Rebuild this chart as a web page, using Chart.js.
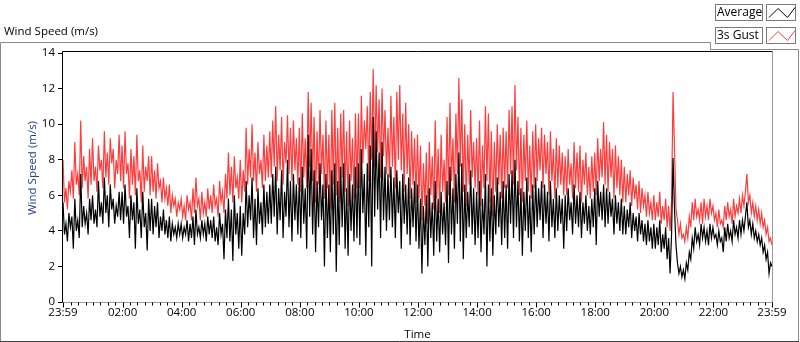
<!DOCTYPE html>
<html>
<head>
<meta charset="utf-8">
<script src="https://cdn.jsdelivr.net/npm/chart.js@4.4.0/dist/chart.umd.min.js"></script>
<style>
html,body{margin:0;padding:0;background:#fff;}
canvas{display:block;}
</style>
</head>
<body>
<canvas id="c" width="800" height="342"></canvas>
<script>
// ---- data, one sample every 3 minutes starting at 23:59 ----
const sampleIntervalMin = 3;

const gustSpeed = [
  8.0,5.6,6.4,5.2,6.8,6.2,7.4,5.8,9.0,6.6,7.2,6.0,10.2,6.4,8.2,6.8,7.6,5.8,8.6,6.6,
  9.2,6.8,7.6,6.2,8.8,7.4,8.0,6.4,9.6,7.0,8.4,6.6,9.2,7.8,8.6,6.4,8.0,7.2,9.4,6.8,
  8.8,6.4,9.6,7.2,7.8,5.8,8.6,6.6,8.2,6.0,9.4,6.8,7.4,5.6,8.8,6.2,7.6,6.8,8.2,6.0,
  8.2,6.2,7.4,5.8,7.8,6.4,6.8,5.6,7.0,5.8,6.4,5.4,6.6,5.0,6.0,5.4,5.8,4.8,5.6,5.2,
  5.8,4.8,5.4,4.6,6.0,5.2,5.6,4.6,6.4,5.0,7.0,5.4,5.8,4.6,6.2,5.0,5.6,4.8,6.4,5.2,
  6.0,5.0,6.6,5.4,5.8,4.8,6.8,5.6,6.2,5.0,7.2,5.8,8.4,6.0,7.6,5.6,8.2,6.4,7.0,5.8,
  8.0,5.6,7.4,6.2,9.8,6.6,8.6,7.0,10.0,6.8,8.4,6.2,9.0,7.2,8.0,6.4,9.4,6.8,8.8,7.0,
  9.6,7.0,10.2,7.6,11.0,6.8,9.4,7.4,10.4,6.6,9.0,7.8,10.5,7.2,9.8,6.8,10.2,7.4,9.2,6.6,
  9.8,6.2,10.6,7.0,9.2,6.4,11.8,7.6,11.2,6.8,10.4,5.6,9.6,6.6,10.8,7.2,9.4,5.8,10.2,6.4,
  9.4,5.2,10.8,6.6,11.2,6.0,9.8,5.6,10.6,7.0,10.8,6.2,9.6,5.4,10.2,6.8,9.2,5.8,10.6,6.4,
  10.6,6.4,11.6,7.8,10.2,8.6,11.0,6.8,11.8,8.0,13.1,7.6,12.2,8.4,11.4,7.0,12.0,8.2,10.8,7.2,
  9.8,7.0,11.6,7.6,10.4,6.4,11.8,8.0,12.2,7.4,10.6,6.2,11.2,7.2,10.0,5.8,9.6,6.6,9.2,5.6,
  9.4,5.8,8.8,4.6,7.8,5.4,8.4,4.4,9.0,6.0,8.2,5.2,10.2,5.8,8.6,5.0,9.4,6.2,8.0,5.6,
  10.4,6.0,11.2,6.8,9.2,5.6,10.6,7.2,12.6,7.6,11.4,6.2,10.0,5.4,9.4,6.6,10.8,7.0,9.0,6.4,
  9.2,6.0,10.2,5.4,8.8,6.4,11.0,6.8,10.6,5.6,9.6,4.8,9.0,6.2,10.0,6.6,9.4,5.8,9.8,6.4,
  9.6,6.4,10.8,7.2,11.0,6.6,12.2,7.4,10.4,6.0,9.8,5.6,9.4,6.8,10.2,6.2,8.8,5.8,9.6,6.4,
  10.0,6.8,9.2,7.4,9.8,6.4,9.4,7.2,9.0,6.0,9.6,6.8,8.6,5.8,9.2,6.4,8.8,6.6,8.4,6.0,
  8.2,6.0,8.6,6.6,7.8,5.8,9.0,6.4,8.4,6.2,8.8,5.6,8.0,6.6,8.4,6.0,7.6,5.8,8.2,6.2,
  8.4,6.0,9.2,6.8,8.6,7.0,10.1,6.6,9.4,6.2,9.0,7.0,8.6,5.8,8.8,6.4,8.2,6.0,8.0,5.6,
  7.6,5.6,7.2,6.0,7.4,5.4,7.0,5.8,6.6,5.2,6.8,5.0,6.4,5.4,6.0,4.8,6.2,5.0,5.6,4.6,
  6.0,4.6,5.6,4.8,6.2,4.4,5.4,4.6,5.8,4.2,5.4,4.0,5.6,11.8,8.6,5.2,4.6,3.8,4.4,3.6,
  3.8,3.4,4.2,3.6,4.8,4.2,5.6,4.6,5.8,4.8,5.2,4.6,5.6,4.4,5.8,4.8,5.4,4.6,5.8,5.0,
  5.4,4.6,5.0,4.2,5.2,4.4,4.6,4.2,5.4,4.6,5.6,4.8,5.2,4.4,5.8,4.8,5.4,5.0,5.8,5.0,
  6.0,5.4,6.2,7.2,5.6,6.0,5.0,5.6,4.8,5.4,4.6,5.2,4.4,5.0,4.2,4.6,3.8,4.2,3.4,3.6,
  3.2
];

const avgSpeed = [
  5.6,3.8,4.4,3.4,5.0,4.2,4.8,3.0,5.8,4.0,4.6,3.6,7.2,4.2,5.4,4.4,5.0,3.8,5.8,4.6,
  6.0,4.4,5.2,4.2,6.8,4.8,5.6,4.4,7.0,5.0,6.0,4.2,6.6,5.2,5.8,4.4,5.4,4.8,6.2,4.6,
  6.2,4.4,6.6,4.8,5.4,3.6,6.0,4.6,5.6,3.0,6.4,4.4,5.2,3.6,6.2,4.2,5.0,2.9,5.8,4.0,
  5.8,3.8,5.4,4.2,5.6,3.6,4.8,4.0,5.2,3.8,4.6,3.6,4.8,3.4,4.4,3.8,4.2,3.6,4.4,3.8,
  4.4,3.6,4.2,3.8,4.6,3.4,4.4,3.6,4.8,3.2,5.2,3.8,4.2,3.6,4.6,3.8,4.4,3.4,4.8,3.8,
  4.6,3.6,4.8,3.4,4.2,3.2,5.0,3.8,4.4,2.4,5.2,3.6,5.8,3.4,5.2,2.3,6.0,3.8,5.0,3.0,
  5.4,2.6,5.0,3.8,6.8,4.2,6.0,4.6,7.0,3.6,5.8,3.2,6.4,4.4,5.6,3.8,6.6,4.2,6.2,4.4,
  6.6,4.4,7.2,4.8,7.6,3.8,6.4,4.6,7.4,3.6,6.2,4.8,8.0,4.2,6.8,3.4,7.2,4.6,6.6,3.8,
  7.0,3.6,7.6,4.4,6.4,3.0,9.4,4.8,8.6,3.8,7.4,2.8,6.8,4.2,7.8,4.6,6.6,2.0,7.2,3.6,
  6.6,2.8,7.4,3.8,7.8,1.7,6.8,3.2,7.6,4.2,7.8,3.0,6.4,2.6,7.2,4.0,6.6,3.4,7.6,3.6,
  7.8,3.2,8.6,5.0,7.2,2.6,7.8,4.2,8.8,2.0,10.4,4.8,9.6,5.2,8.4,3.6,9.0,4.6,7.6,4.0,
  7.2,4.6,7.6,4.2,7.0,3.6,7.4,5.0,6.8,3.0,7.2,4.4,6.6,3.8,7.0,3.2,6.4,4.2,6.8,3.4,
  6.6,3.0,5.8,1.6,5.4,3.2,6.0,2.0,6.4,3.6,5.6,2.6,6.8,3.4,5.8,2.8,6.2,3.8,5.6,3.2,
  6.8,2.2,7.6,3.8,6.4,3.0,7.2,4.4,8.4,3.4,7.8,2.4,6.6,3.6,6.2,4.2,7.4,3.8,6.4,3.2,
  6.2,3.6,6.8,2.8,5.8,3.8,7.2,2.0,6.6,3.4,6.4,2.6,6.0,3.8,7.0,4.2,6.2,3.2,6.8,3.6,
  6.6,3.0,7.2,4.4,7.4,3.6,8.0,4.2,6.8,3.4,6.4,2.6,6.2,4.0,7.0,3.6,6.0,2.8,6.6,3.8,
  7.0,4.2,6.4,4.6,6.8,3.6,6.6,4.4,6.2,3.4,6.8,4.2,5.8,3.6,6.4,4.0,6.0,4.4,5.8,3.0,
  6.0,4.0,6.4,4.6,5.6,3.8,6.6,4.4,6.0,4.2,6.2,3.6,5.6,4.4,6.0,4.0,5.4,3.8,5.8,4.2,
  6.4,3.2,6.8,4.8,6.2,4.6,6.6,4.2,6.4,4.4,6.2,4.8,5.8,3.8,6.0,4.4,5.6,4.0,5.8,3.8,
  5.4,3.8,5.2,4.2,5.6,3.6,5.0,4.0,4.8,3.4,5.0,3.8,4.6,3.4,4.4,3.2,4.6,3.4,4.2,3.0,
  4.4,3.0,4.2,3.2,4.6,2.8,3.8,3.0,4.2,2.4,3.6,1.6,3.8,8.1,5.2,3.2,2.2,1.6,2.0,1.4,
  1.8,1.3,2.2,1.8,2.8,2.4,3.6,3.0,4.2,3.4,3.8,3.2,4.4,3.6,4.2,3.4,4.0,3.2,4.4,3.6,
  4.2,3.6,3.8,3.2,4.0,3.4,3.6,2.8,4.2,3.4,4.4,3.6,4.0,3.4,4.6,3.8,4.2,3.6,4.6,3.8,
  4.6,4.0,4.8,5.6,4.2,4.6,3.8,4.4,3.6,4.0,3.4,3.8,3.2,3.6,2.8,3.2,2.4,2.8,1.6,2.2,
  2.0
];

// x tick positions in minutes since 23:59 and their labels
const xTickMinutes = [0,121,241,361,481,601,721,841,961,1081,1201,1321,1440];
const xTickLabels  = ['23:59','02:00','04:00','06:00','08:00','10:00','12:00','14:00','16:00','18:00','20:00','22:00','23:59'];
const yTicks = [0,2,4,6,8,10,12,14];

const FONT = "'Open Sans', 'DejaVu Sans', sans-serif";

const toPoints = arr => arr.map((v,i)=>({x:i*sampleIntervalMin, y:v}));

const framePlugin = {
  id:'frame',
  afterDraw(chart){
    const ctx = chart.ctx, a = chart.chartArea;
    const xs = chart.scales.x;
    ctx.save();
    // outer panel frame
    ctx.strokeStyle = '#8a8a8a'; ctx.lineWidth = 1;
    ctx.beginPath();
    ctx.moveTo(0.5, 341.5); ctx.lineTo(0.5, 42.5); ctx.lineTo(710.5, 42.5);
    ctx.lineTo(710.5, 49.5); ctx.lineTo(798.5, 49.5); ctx.lineTo(798.5, 341.5);
    ctx.stroke();
    ctx.strokeStyle = '#404040';
    ctx.beginPath(); ctx.moveTo(0, 341.5); ctx.lineTo(799, 341.5); ctx.stroke();
    // plot frame: left/top black, right/bottom gray
    const L = Math.round(a.left)-0.5, R = Math.round(a.right)+0.5, T = 51.5, B = Math.round(a.bottom)+0.5;
    ctx.strokeStyle = '#000';
    ctx.beginPath(); ctx.moveTo(L, B); ctx.lineTo(L, T); ctx.lineTo(R, T); ctx.stroke();
    ctx.strokeStyle = '#9a9a9a';
    ctx.beginPath(); ctx.moveTo(R, T); ctx.lineTo(R, B); ctx.lineTo(L, B); ctx.stroke();
    // x ticks: majors and minors (every 15 min from 00:00)
    ctx.strokeStyle = '#000';
    ctx.beginPath();
    xTickMinutes.forEach(m=>{
      const px = Math.round(xs.getPixelForValue(m))+0.5;
      ctx.moveTo(px, B); ctx.lineTo(px, B+5);
    });
    for(let m=1; m<1440; m+=15){
      if(((m-1)%120)===0) continue;
      const px = Math.round(xs.getPixelForValue(m))+0.5;
      ctx.moveTo(px, B); ctx.lineTo(px, B+3);
    }
    ctx.stroke();
    // top-left title
    ctx.fillStyle = '#000';
    ctx.font = '11.5px ' + FONT;
    ctx.textBaseline = 'middle'; ctx.textAlign = 'left';
    ctx.fillText('Wind Speed (m/s)', 4, 32);
    // y axis title (rotated)
    ctx.save();
    ctx.translate(33, 168); ctx.rotate(-Math.PI/2);
    ctx.textAlign = 'center'; ctx.fillStyle = '#23408a';
    ctx.fillText('Wind Speed (m/s)', 0, 0);
    ctx.restore();
    // legend
    const ds = chart.data.datasets;
    const rows = [{y:4}, {y:27}];
    ctx.font = '12px ' + FONT;
    ds.forEach((d,i)=>{
      const y0 = rows[i].y;
      ctx.strokeStyle = '#7a7a7a';
      ctx.fillStyle = '#fff';
      ctx.fillRect(715.5, y0+0.5, 47, 16);
      ctx.strokeRect(715.5, y0+0.5, 47, 16);
      ctx.fillRect(766.5, y0+0.5, 29, 16);
      ctx.strokeRect(766.5, y0+0.5, 29, 16);
      ctx.fillStyle = '#000';
      ctx.textAlign = 'left';
      ctx.fillText(d.label, 717, y0+9);
      ctx.strokeStyle = d.borderColor; ctx.lineWidth = 1;
      ctx.beginPath();
      ctx.moveTo(769, y0+13.5); ctx.lineTo(778, y0+4.5); ctx.lineTo(787.5, y0+13.5); ctx.lineTo(795, y0+3.5);
      ctx.stroke();
    });
    ctx.restore();
  }
};

new Chart(document.getElementById('c'), {
  type:'line',
  data:{
    datasets:[
      {label:'Average', data:toPoints(avgSpeed), borderColor:'#000000', borderWidth:1.2, pointRadius:0, tension:0, order:0},
      {label:'3s Gust', data:toPoints(gustSpeed), borderColor:'#ff3c3c', borderWidth:1.2, pointRadius:0, tension:0, order:1}
    ]
  },
  options:{
    responsive:false, animation:false, devicePixelRatio:1,
    layout:{padding:{left:0, top:53, right:28, bottom:0}},
    plugins:{legend:{display:false}, tooltip:{enabled:false}, title:{display:false}},
    scales:{
      x:{
        type:'linear', min:0, max:1440,
        afterFit(s){ s.height = 40; },
        afterBuildTicks(s){ s.ticks = xTickMinutes.map(v=>({value:v})); },
        ticks:{ callback:(v)=>{ const i = xTickMinutes.indexOf(v); return i>=0 ? xTickLabels[i] : ''; },
                font:{family:FONT, size:11.5}, color:'#000', maxRotation:0, autoSkip:false, padding:4 },
        grid:{ display:false, drawTicks:false },
        border:{display:false},
        title:{ display:true, text:'Time', font:{family:FONT, size:11.5}, color:'#000', padding:{top:0,bottom:0} }
      },
      y:{
        min:0, max:14,
        afterFit(s){ s.width = 63; },
        afterBuildTicks(s){ s.ticks = yTicks.map(v=>({value:v})); },
        ticks:{ font:{family:FONT, size:11.5}, color:'#000', padding:3 },
        grid:{ drawOnChartArea:false, drawTicks:true, tickLength:5, color:'#000' },
        border:{display:false}
      }
    }
  },
  plugins:[framePlugin]
});
</script>
</body>
</html>
